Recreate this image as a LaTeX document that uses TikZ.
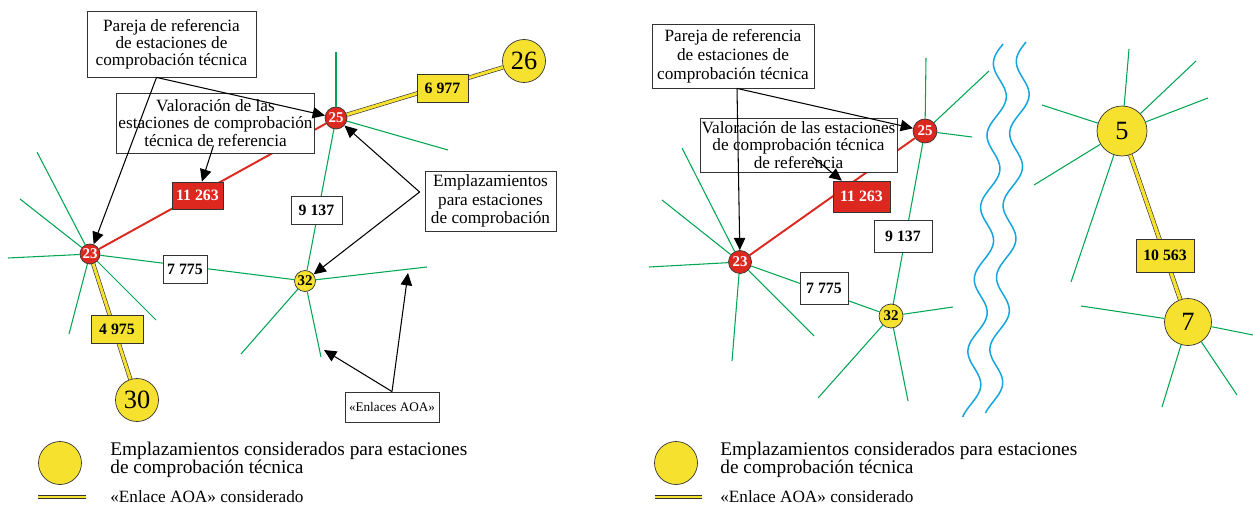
\documentclass[tikz,border=0pt]{standalone}
\usepackage{fontspec}
\setmainfont{Liberation Serif}
\usetikzlibrary{arrows.meta}

\definecolor{sitered}{RGB}{220,40,30}
\definecolor{siteyellow}{RGB}{246,225,47}
\definecolor{raygreen}{RGB}{0,166,81}
\definecolor{riverblue}{RGB}{20,165,220}

\begin{document}
\begin{tikzpicture}[x=0.02cm, y=-0.02cm,
    redsite/.style = {circle, draw=black!80, fill=sitered, text=white, inner sep=0pt, font=\fontsize{8.5}{9}\selectfont\bfseries},
    ysite/.style = {circle, draw=black!80, fill=siteyellow, inner sep=0pt, font=\fontsize{8.5}{9}\selectfont\bfseries},
    bigsite/.style = {circle, draw=black!80, fill=siteyellow, inner sep=0pt, font=\fontsize{15}{15}\selectfont},
    ray/.style = {raygreen, line width=0.6pt},
    reflink/.style = {sitered, line width=1.1pt},
    aoa/.style = {draw=black!80, line width=0.35pt, double=siteyellow, double distance=1.7pt},
    numbox/.style = {draw=black!80, fill=white, inner sep=1pt, minimum height=0.56cm, font=\fontsize{9}{10}\selectfont\bfseries},
    note/.style = {draw=black!80, fill=white, align=center, inner sep=1pt, line width=0.5pt, font=\fontsize{9.8}{9.8}\selectfont},
    pointer/.style = {-{Triangle[length=7pt,width=6.5pt]}, line width=0.6pt},
    river/.style = {riverblue, line width=0.85pt}]
\useasboundingbox (0,0) rectangle (1253,506);

% left panel: sites
\node[redsite, minimum size=0.4cm] (a23) at (90,254) {23};
\node[redsite, minimum size=0.44cm] (a25) at (336,118) {25};
\node[ysite, minimum size=0.42cm] (a32) at (305,281) {32};
\node[bigsite, minimum size=0.86cm] (a26) at (524,61) {26};
\node[bigsite, minimum size=0.86cm] (a30) at (137,400) {30};

% left panel: AOA links
\foreach \x/\y [count=\i] in {37/152, 20/199, 8/258, 69/334, 156/320} {
  \coordinate (a23r\i) at (\x,\y);
  \draw[ray] (a23) -- (a23r\i);
}
\foreach \x/\y [count=\i] in {336/52, 448/150} {
  \coordinate (a25r\i) at (\x,\y);
  \draw[ray] (a25) -- (a25r\i);
}
\foreach \x/\y [count=\i] in {427/267, 241/354, 321/357} {
  \coordinate (a32r\i) at (\x,\y);
  \draw[ray] (a32) -- (a32r\i);
}
\draw[ray] (a23) -- (a32);
\draw[ray] (a25) -- (a32);
\draw[reflink] (a23) -- (a25);
\draw[aoa] (a25) -- (a26);
\draw[aoa] (a23) -- (a30);

\node[numbox, minimum width=0.88cm] (a7775) at (185,269) {7 775};
\node[numbox, minimum width=1.02cm] (a9137) at (316.5,210) {9 137};
\node[numbox, minimum width=1.02cm, fill=sitered, text=white, minimum height=0.54cm] (a11) at (197.5,195.5) {11 263};
\node[numbox, minimum width=1.02cm, fill=siteyellow] (a6977) at (442.5,88) {6 977};
\node[numbox, minimum width=1.04cm, fill=siteyellow] (a4975) at (117,329) {4 975};

% left panel: notes
\node[note, minimum width=3.38cm, minimum height=1.32cm] (apair) at (171.5,44) {Pareja de referencia\\de estaciones de\\comprobación técnica};
\node[note, minimum width=3.86cm, minimum height=1.2cm] (aval) at (215.5,123) {Valoración de las\\estaciones de comprobación\\técnica de referencia};
\node[note, minimum width=2.62cm, minimum height=1.2cm, font=\fontsize{9.8}{10.5}\selectfont] (asite) at (490.5,201) {Emplazamientos\\para estaciones\\de comprobación};
\node[note, minimum width=1.88cm, minimum height=0.6cm, font=\fontsize{7.5}{8}\selectfont] (aaoa) at (392,407) {«Enlaces AOA»};

\coordinate (apairout) at ([shift={(-15,0)}]apair.south);
\draw[pointer] (apairout) -- (a23);
\draw[pointer] (apairout) -- (a25);
\draw[pointer] ([shift={(-2,-8)}]aval.south) -- (a11);
\coordinate (asiteout) at ([shift={(-5,-9)}]asite.west);
\draw[pointer] (asiteout) -- (a25);
\draw[pointer] (asiteout) -- (a32);
\coordinate (aaoa1) at (324,350);
\coordinate (aaoa2) at (408,273);
\draw[pointer] (aaoa.north) -- (aaoa1);
\draw[pointer] (aaoa.north) -- (aaoa2);

% right panel: sites
\node[redsite, minimum size=0.46cm] (b23) at (740,262) {23};
\node[redsite, minimum size=0.48cm] (b25) at (925,131) {25};
\node[ysite, minimum size=0.48cm] (b32) at (891,316) {32};
\node[bigsite, minimum size=1.0cm] (b5) at (1122,131) {5};
\node[bigsite, minimum size=0.94cm] (b7) at (1188,322) {7};

% right panel: AOA links
\foreach \x/\y [count=\i] in {682/148, 662/200, 649/267, 732/361, 814/336} {
  \coordinate (b23r\i) at (\x,\y);
  \draw[ray] (b23) -- (b23r\i);
}
\foreach \x/\y [count=\i] in {926/58, 989/71, 972/137} {
  \coordinate (b25r\i) at (\x,\y);
  \draw[ray] (b25) -- (b25r\i);
}
\foreach \x/\y [count=\i] in {953/307, 818/398, 908/401} {
  \coordinate (b32r\i) at (\x,\y);
  \draw[ray] (b32) -- (b32r\i);
}
\foreach \x/\y [count=\i] in {1129/49, 1196/61, 1208/98, 1042/105, 1034/185, 1071/282} {
  \coordinate (b5r\i) at (\x,\y);
  \draw[ray] (b5) -- (b5r\i);
}
\foreach \x/\y [count=\i] in {1081/306, 1253/335, 1162/407, 1237/395} {
  \coordinate (b7r\i) at (\x,\y);
  \draw[ray] (b7) -- (b7r\i);
}
\draw[ray] (b23) -- (b32);
\draw[ray] (b25) -- (b32);
\draw[reflink] (b23) -- (b25);
\draw[aoa, double distance=1.9pt] (b5) -- (b7);

\node[numbox, minimum width=0.96cm, minimum height=0.64cm] (b7775) at (824,288) {7 775};
\node[numbox, minimum width=1.16cm, minimum height=0.64cm] (b9137) at (903,236) {9 137};
\node[numbox, minimum width=1.14cm, minimum height=0.62cm, fill=sitered, text=white] (b11) at (861.5,196.5) {11 263};
\node[numbox, minimum width=1.16cm, minimum height=0.66cm, fill=siteyellow] (b10563) at (1165,255.5) {10 563};

% rivers
\draw[river] plot[domain=0:373, samples=160, smooth, variable=\t] ({1003-33*\t/373-8*sin(5*\t)},{44+\t});
\draw[river] plot[domain=0:371, samples=160, smooth, variable=\t] ({1026-34*\t/371-8*sin(5*\t)},{42+\t});

% right panel: notes
\node[note, minimum width=3.24cm, minimum height=1.28cm, font=\fontsize{9.8}{10.8}\selectfont] (bpair) at (733,56) {Pareja de referencia\\de estaciones de\\comprobación técnica};
\node[note, minimum width=3.86cm, minimum height=1.08cm] (bval) at (798.5,145) {Valoración de las estaciones\\de comprobación técnica\\de referencia};

\coordinate (bpairout) at ([shift={(4,0)}]bpair.south);
\draw[pointer] (bpairout) -- (b23);
\draw[pointer] (bpairout) -- (b25);
\draw[pointer] ([shift={(14,12)}]bval.center) -- (b11);

% legends
\node[ysite, minimum size=0.86cm] (akey) at (60,463) {};
\node[anchor=west, align=left, inner sep=0pt, font=\fontsize{11}{10.5}\selectfont] (akeytxt) at (110,460) {Emplazamientos considerados para estaciones\\de comprobación técnica};
\coordinate (akeya) at (38,497);
\coordinate (akeyb) at (86,497);
\draw[aoa] (akeya) -- (akeyb);
\node[anchor=west, inner sep=0pt, font=\fontsize{9.8}{10}\selectfont] (akeylink) at (110,497) {«Enlace AOA» considerado};

\node[ysite, minimum size=0.86cm] (bkey) at (676,463) {};
\node[anchor=west, align=left, inner sep=0pt, font=\fontsize{11}{10.5}\selectfont] (bkeytxt) at (720,460) {Emplazamientos considerados para estaciones\\de comprobación técnica};
\coordinate (bkeya) at (655,497);
\coordinate (bkeyb) at (702,497);
\draw[aoa] (bkeya) -- (bkeyb);
\node[anchor=west, inner sep=0pt, font=\fontsize{9.8}{10}\selectfont] (bkeylink) at (720,497) {«Enlace AOA» considerado};
\end{tikzpicture}
\end{document}
